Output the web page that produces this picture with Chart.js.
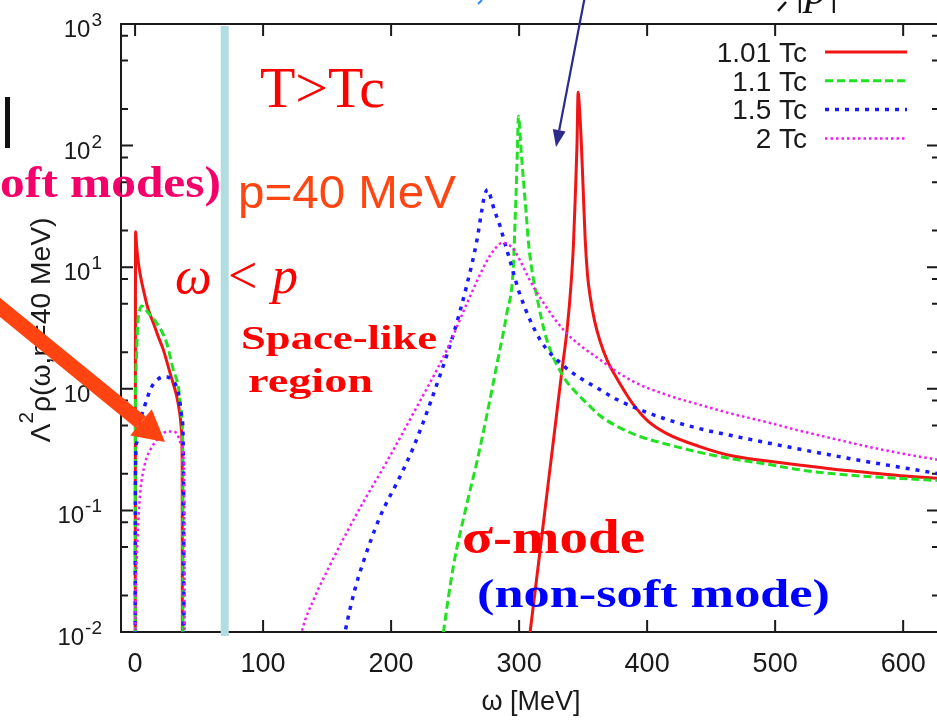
<!DOCTYPE html>
<html>
<head>
<meta charset="utf-8">
<title>Funcao espectral - T>Tc</title>
<script src="https://cdn.jsdelivr.net/npm/chart.js@4.4.1/dist/chart.umd.min.js"></script>
<style>
  html, body { margin: 0; padding: 0; background: #fff; overflow: hidden; }
  #wrap { position: absolute; left: 0; top: 0; width: 950px; height: 721px; }
</style>
</head>
<body>
<div id="wrap"><canvas id="grafico" width="950" height="721"></canvas></div>
<script>
// Valores: omega em MeV, rho = Lambda^2 rho(omega, p=40 MeV)
// o par (40, null) separa o ramo tipo-espaco (omega < p) do ramo tipo-tempo
const omega101 = [0, 0.4, 1.2, 2.6, 4.5, 6.5, 10, 14.3, 18, 22.1, 27.3, 32.6, 35, 36.3, 36.8, 37.1,
  40,
  304, 308.6, 316.4, 322.7, 328.9, 333.6, 337.5, 340.5, 342.5, 344, 345.2, 346.1, 347.2, 348.5, 350,
  351.6, 353.5, 355.5, 359, 363.3, 369, 376.3, 383, 389.3, 400, 415, 441, 467, 494, 520, 546, 572, 598, 628];
const rho101 = [1e-4, 19.6, 15, 10.8, 8.2, 6.5, 4.6, 3.47, 2.7, 2.09, 1.35, 0.86, 0.62, 0.45, 0.22, 1e-4,
  null,
  0.004, 0.01, 0.047, 0.166, 0.57, 1.45, 3.1, 7.1, 15.8, 41.7, 100, 275, 200, 110, 45,
  17, 8.5, 5.75, 3.6, 2.45, 1.7, 1.22, 0.93, 0.74, 0.55, 0.43, 0.335, 0.28, 0.255, 0.235, 0.218, 0.205, 0.193, 0.184];

const omega11 = [0, 0.2, 0.8, 2, 3.5, 5.2, 10.4, 16.9, 24.7, 29.9, 33.8, 36.5, 37.2, 37.6,
  40,
  236, 240.9, 248.7, 259.1, 267, 274.7, 282.6, 290.4, 295.5, 296.5, 297.5, 298.5, 299.5, 301.5, 303.5,
  305.5, 307.3, 310, 313.8, 321.6, 334.6, 345, 355.5, 363.3, 373.7, 384, 394.5, 415.4, 441, 467, 494,
  520, 546, 572, 598, 628];
const rho11 = [1e-4, 0.3, 1.5, 3.3, 4.4, 4.8, 4.2, 3.47, 2.38, 1.43, 1.04, 0.59, 0.3, 1e-4,
  null,
  0.004, 0.01, 0.035, 0.112, 0.25, 0.6, 1.58, 4.17, 10, 19, 37, 80, 174, 93, 50,
  28, 16, 9.5, 5.75, 2.53, 1.26, 0.92, 0.715, 0.6, 0.51, 0.45, 0.405, 0.35, 0.3, 0.265, 0.24,
  0.215, 0.2, 0.19, 0.183, 0.176];

const omega15 = [0.05, 0.3, 1.3, 3.5, 6.5, 13, 18, 22.1, 28.6, 33.8, 36.5, 37.8, 38.5,
  40,
  160, 164, 171, 178.4, 191.4, 207, 217.4, 230.5, 248.7, 259.1, 267, 271, 273, 275.5, 278, 280, 282.5,
  285.2, 288, 293, 300.8, 316.4, 334.6, 348, 362, 376, 391.9, 415.4, 441, 467, 493.5, 560, 628];
const rho15 = [1e-4, 0.2, 0.36, 0.52, 0.67, 1.04, 1.2, 1.26, 1.19, 0.92, 0.59, 0.25, 1e-4,
  null,
  0.006, 0.01, 0.021, 0.038, 0.089, 0.19, 0.33, 0.76, 2.82, 7.1, 16.6, 30, 39, 43.5, 37, 31, 26,
  21.7, 17, 11.2, 5.9, 2.53, 1.55, 1.22, 1.0, 0.82, 0.69, 0.56, 0.47, 0.41, 0.36, 0.265, 0.2];

const omega2 = [0, 0.5, 1.3, 2.5, 4, 6, 9, 13, 17, 21, 25, 29, 32.6, 36.5, 38.3, 39,
  40,
  125, 130.2, 140, 152.3, 165.4, 178.4, 196.6, 217.4, 243.5, 259.1, 274.7, 281, 286.5, 291, 295.5,
  311.2, 334.6, 363.3, 389, 415.5, 441, 467, 494, 520, 545, 572, 598, 628];
const rho2 = [0.005, 0.02, 0.04, 0.08, 0.14, 0.2, 0.27, 0.33, 0.38, 0.42, 0.445, 0.445, 0.43, 0.34, 0.2, 1e-4,
  null,
  0.005, 0.01, 0.019, 0.0355, 0.066, 0.1175, 0.251, 0.63, 2.09, 5.0, 11.2, 14.1, 15.8, 15.5, 14.1,
  6.9, 3.06, 1.73, 1.15, 0.89, 0.74, 0.62, 0.53, 0.45, 0.39, 0.335, 0.295, 0.26];

const seriesLabels = ['1.01 Tc', '1.1 Tc', '1.5 Tc', '2 Tc'];
const xTicks = [0, 100, 200, 300, 400, 500, 600];
const yTicks = [1e-2, 1e-1, 1, 10, 100, 1000];
const yTickExp = ['-2', '-1', '0', '1', '2', '3'];
const yMinorMult = [2, 5, 8];
const bandOmega = 70; // faixa azul clara (omega ~ p)

function pares(ws, rs) {
  return ws.map((w, i) => ({ x: w, y: rs[i] }));
}

// escreve texto com escala horizontal opcional (para casar a largura da figura)
function texto(ctx, str, x, y, font, cor, opts = {}) {
  ctx.save();
  ctx.font = font;
  ctx.fillStyle = cor;
  ctx.textBaseline = 'alphabetic';
  ctx.textAlign = 'left';
  const w = ctx.measureText(str).width;
  const sx = opts.largura ? opts.largura / w : (opts.sx || 1);
  let x0 = x;
  if (opts.align === 'right') x0 = x - w * sx;
  else if (opts.align === 'center') x0 = x - (w * sx) / 2;
  ctx.translate(x0, y);
  ctx.scale(sx, 1);
  ctx.fillText(str, 0, 0);
  ctx.restore();
  return w * sx;
}

function seta(ctx, x1, y1, x2, y2, larg, compCab, largCab, cor) {
  const ang = Math.atan2(y2 - y1, x2 - x1);
  const bx = x2 - Math.cos(ang) * compCab;
  const by = y2 - Math.sin(ang) * compCab;
  ctx.save();
  ctx.strokeStyle = cor;
  ctx.fillStyle = cor;
  ctx.lineWidth = larg;
  ctx.beginPath();
  ctx.moveTo(x1, y1);
  ctx.lineTo(bx, by);
  ctx.stroke();
  const nx = -Math.sin(ang) * largCab / 2;
  const ny = Math.cos(ang) * largCab / 2;
  ctx.beginPath();
  ctx.moveTo(x2, y2);
  ctx.lineTo(bx + nx, by + ny);
  ctx.lineTo(bx - nx, by - ny);
  ctx.closePath();
  ctx.fill();
  ctx.restore();
}

const SANS = '"Liberation Sans", Arial, sans-serif';
const SERIF = '"Liberation Serif", "Times New Roman", serif';

// eixos no estilo gnuplot: borda nos 4 lados e marcas para dentro
const eixosGnuplot = {
  id: 'eixosGnuplot',
  beforeDatasetsDraw(chart) {
    const { ctx, chartArea: a, scales: { x, y } } = chart;
    ctx.save();
    ctx.strokeStyle = '#1a1a1a';
    ctx.lineWidth = 2;
    ctx.strokeRect(a.left, a.top, a.right - a.left, a.bottom - a.top);
    ctx.beginPath();
    xTicks.forEach(v => {
      const px = x.getPixelForValue(v);
      ctx.moveTo(px, a.bottom); ctx.lineTo(px, a.bottom - 12);
      ctx.moveTo(px, a.top); ctx.lineTo(px, a.top + 12);
    });
    yTicks.forEach(v => {
      const py = y.getPixelForValue(v);
      ctx.moveTo(a.left, py); ctx.lineTo(a.left + 12, py);
      ctx.moveTo(a.right, py); ctx.lineTo(a.right - 12, py);
      if (v < 1000) {
        yMinorMult.forEach(m => {
          const pm = y.getPixelForValue(v * m);
          ctx.moveTo(a.left, pm); ctx.lineTo(a.left + 7, pm);
          ctx.moveTo(a.right, pm); ctx.lineTo(a.right - 7, pm);
        });
      }
    });
    ctx.stroke();
    ctx.restore();
  },
  afterDatasetsDraw(chart) {
    const { ctx, chartArea: a, scales: { x, y } } = chart;
    const cinza = '#1a1a1a';

    // rotulos do eixo x
    xTicks.forEach(v => {
      texto(ctx, String(v), x.getPixelForValue(v), a.bottom + 40, '27px ' + SANS, cinza, { align: 'center' });
    });
    texto(ctx, 'ω [MeV]', 531, 710, '27px ' + SANS, cinza, { align: 'center' });

    // rotulos do eixo y com expoente
    yTicks.forEach((v, i) => {
      const py = y.getPixelForValue(v);
      ctx.font = '19px ' + SANS;
      const ws = ctx.measureText(yTickExp[i]).width;
      ctx.font = '24px ' + SANS;
      const wb = ctx.measureText('10').width;
      const x0 = 102 - ws - wb - 1;
      texto(ctx, '10', x0, py + 13, '24px ' + SANS, cinza);
      texto(ctx, yTickExp[i], x0 + wb + 1, py + 2, '19px ' + SANS, cinza);
    });

    // titulo do eixo y (rotacionado)
    ctx.save();
    ctx.translate(50, 330);
    ctx.rotate(-Math.PI / 2);
    ctx.fillStyle = cinza;
    ctx.font = '27px ' + SANS;
    const wL = ctx.measureText('Λ').width;
    const wR = ctx.measureText('ρ(ω,p=40 MeV)').width;
    ctx.font = '20px ' + SANS;
    const w2 = ctx.measureText('2').width;
    const tot = wL + w2 + wR;
    ctx.scale(225 / tot, 1);
    let u = -tot / 2;
    ctx.font = '27px ' + SANS;
    ctx.fillText('Λ', u, 0); u += wL;
    ctx.font = '20px ' + SANS;
    ctx.fillText('2', u, -17); u += w2;
    ctx.font = '27px ' + SANS;
    ctx.fillText('ρ(ω,p=40 MeV)', u, 0);
    ctx.restore();

    // legenda no canto superior direito
    chart.data.datasets.forEach((ds, i) => {
      const cy = 52 + i * 28.8;
      texto(ctx, seriesLabels[i], 807, cy + 9.7, '28px ' + SANS, cinza, { align: 'right' });
      ctx.save();
      ctx.strokeStyle = ds.borderColor;
      ctx.lineWidth = ds.borderWidth;
      ctx.setLineDash(ds.borderDash || []);
      ctx.beginPath();
      ctx.moveTo(825, cy);
      ctx.lineTo(907, cy);
      ctx.stroke();
      ctx.restore();
    });

    // faixa azul clara
    const bx = x.getPixelForValue(bandOmega);
    ctx.save();
    ctx.fillStyle = '#b2dde0';
    ctx.fillRect(bx - 4, a.top + 2, 8, a.bottom - a.top + 2);
    ctx.restore();

    // textos do slide
    texto(ctx, 'T>Tc', 260, 107, '56px ' + SERIF, '#ff0000', { largura: 125 });
    texto(ctx, 'p=40 MeV', 238, 208, '47px ' + SANS, '#ff4612', { largura: 218 });
    texto(ctx, 'ω', 175, 293, 'italic 52px ' + SERIF, '#ff0000');
    texto(ctx, '<', 228, 293, '52px ' + SERIF, '#ff0000');
    texto(ctx, 'p', 272, 293, 'italic 52px ' + SERIF, '#ff0000');
    texto(ctx, 'Space-like', 241, 349, 'bold 33px ' + SERIF, '#ff0000', { largura: 196 });
    texto(ctx, 'region', 248, 392, 'bold 33px ' + SERIF, '#ff0000', { largura: 125 });
    texto(ctx, 'σ-mode', 462, 553, 'bold 48px ' + SERIF, '#ff0000', { largura: 183 });
    texto(ctx, '(non-soft mode)', 477, 607, 'bold 41px ' + SERIF, '#0000ff', { largura: 353 });
    ctx.font = 'bold 44px ' + SERIF;
    const sxSoft = 221 / ctx.measureText('oft modes)').width;
    texto(ctx, '(soft modes)', 221, 197, 'bold 44px ' + SERIF, '#f5006a', { align: 'right', sx: sxSoft });

    // pedacos de texto cortados no topo e barra preta a esquerda
    texto(ctx, '|p|', 793, 4, 'italic 44px ' + SERIF, '#111');
    ctx.save();
    ctx.fillStyle = '#111';
    ctx.fillRect(5, 97, 5, 51);
    ctx.strokeStyle = '#111';
    ctx.lineWidth = 2.5;
    ctx.beginPath(); ctx.moveTo(778, 11); ctx.lineTo(786, 2); ctx.stroke();
    ctx.strokeStyle = '#2a8cff';
    ctx.lineWidth = 2;
    ctx.beginPath(); ctx.moveTo(478, 4); ctx.lineTo(482, 0); ctx.stroke();
    ctx.restore();

    // setas
    seta(ctx, 585, -4, 556, 147, 2.2, 17, 13, '#2b2b8c');
    seta(ctx, -25, 287, 165, 442, 15, 31, 34, '#ff4411');
  }
};

const estilo = [
  { cor: '#f01414', larg: 3, dash: [] },
  { cor: '#22e022', larg: 3, dash: [8, 4] },
  { cor: '#1a1aff', larg: 3.5, dash: [4, 6] },
  { cor: '#f01cf0', larg: 2.5, dash: [2.5, 3] }
];
const dados = [pares(omega101, rho101), pares(omega11, rho11), pares(omega15, rho15), pares(omega2, rho2)];

new Chart(document.getElementById('grafico'), {
  type: 'scatter',
  data: {
    datasets: dados.map((d, i) => ({
      label: seriesLabels[i],
      data: d,
      showLine: true,
      borderColor: estilo[i].cor,
      backgroundColor: estilo[i].cor,
      borderWidth: estilo[i].larg,
      borderDash: estilo[i].dash,
      pointRadius: 0,
      spanGaps: false,
      cubicInterpolationMode: 'monotone',
      order: 4 - i
    }))
  },
  options: {
    responsive: false,
    devicePixelRatio: 1,
    animation: false,
    layout: { padding: { left: 121, top: 24, right: 11, bottom: 89 } },
    plugins: { legend: { display: false }, tooltip: { enabled: false } },
    scales: {
      x: { type: 'linear', min: -11, max: 628, display: false },
      y: { type: 'logarithmic', min: 0.01, max: 1000, display: false }
    }
  },
  plugins: [eixosGnuplot]
});
</script>
</body>
</html>
